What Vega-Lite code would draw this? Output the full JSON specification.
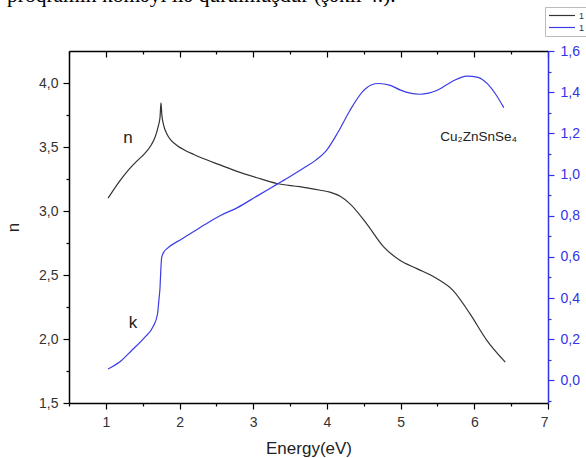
{
  "$schema": "https://vega.github.io/schema/vega-lite/v6.json",
  "width": 479,
  "height": 352,
  "autosize": "none",
  "padding": {"left": 69, "top": 51, "right": 38, "bottom": 55},
  "background": "white",
  "config": {"view": {"stroke": null}, "font": "Liberation Sans"},
  "title": {
    "text": "proqramın köməyi ilə qurulmuşdur (şəkil 4.).",
    "anchor": "start",
    "frame": "group",
    "orient": "top",
    "offset": 0,
    "dx": -62,
    "dy": 17,
    "baseline": "alphabetic",
    "font": "Liberation Serif",
    "fontSize": 21.5,
    "fontWeight": "normal",
    "color": "#000"
  },
  "datasets": {
    "n": [
      {"E": 1.03, "n": 3.10}, {"E": 1.17, "n": 3.22}, {"E": 1.305, "n": 3.32}, {"E": 1.42, "n": 3.39},
      {"E": 1.53, "n": 3.45}, {"E": 1.62, "n": 3.52}, {"E": 1.67, "n": 3.58}, {"E": 1.71, "n": 3.66},
      {"E": 1.735, "n": 3.73}, {"E": 1.748, "n": 3.845}, {"E": 1.76, "n": 3.75}, {"E": 1.78, "n": 3.68},
      {"E": 1.83, "n": 3.60}, {"E": 1.89, "n": 3.55}, {"E": 1.97, "n": 3.51}, {"E": 2.07, "n": 3.475},
      {"E": 2.2, "n": 3.44}, {"E": 2.32, "n": 3.41}, {"E": 2.55, "n": 3.36}, {"E": 2.78, "n": 3.31},
      {"E": 3.05, "n": 3.26}, {"E": 3.32, "n": 3.215}, {"E": 3.63, "n": 3.19}, {"E": 3.91, "n": 3.162},
      {"E": 4.04, "n": 3.148}, {"E": 4.18, "n": 3.115}, {"E": 4.31, "n": 3.058}, {"E": 4.54, "n": 2.90},
      {"E": 4.77, "n": 2.72}, {"E": 4.99, "n": 2.615}, {"E": 5.22, "n": 2.55}, {"E": 5.49, "n": 2.472},
      {"E": 5.71, "n": 2.38}, {"E": 5.94, "n": 2.198}, {"E": 6.17, "n": 1.99}, {"E": 6.42, "n": 1.82}
    ],
    "k": [
      {"E": 1.03, "k": 0.055}, {"E": 1.19, "k": 0.09}, {"E": 1.35, "k": 0.145}, {"E": 1.53, "k": 0.21},
      {"E": 1.64, "k": 0.26}, {"E": 1.70, "k": 0.32}, {"E": 1.72, "k": 0.39}, {"E": 1.735, "k": 0.45},
      {"E": 1.745, "k": 0.53}, {"E": 1.758, "k": 0.598}, {"E": 1.79, "k": 0.625}, {"E": 1.83, "k": 0.64},
      {"E": 2.03, "k": 0.687}, {"E": 2.21, "k": 0.727}, {"E": 2.35, "k": 0.758}, {"E": 2.55, "k": 0.80},
      {"E": 2.78, "k": 0.838}, {"E": 3.05, "k": 0.895}, {"E": 3.32, "k": 0.952}, {"E": 3.5, "k": 0.99},
      {"E": 3.68, "k": 1.03}, {"E": 3.85, "k": 1.07}, {"E": 4.0, "k": 1.12}, {"E": 4.15, "k": 1.205},
      {"E": 4.31, "k": 1.31}, {"E": 4.49, "k": 1.405}, {"E": 4.6, "k": 1.435}, {"E": 4.7, "k": 1.442},
      {"E": 4.85, "k": 1.434}, {"E": 5.0, "k": 1.41}, {"E": 5.13, "k": 1.395}, {"E": 5.26, "k": 1.39},
      {"E": 5.38, "k": 1.395}, {"E": 5.49, "k": 1.408}, {"E": 5.70, "k": 1.452}, {"E": 5.90, "k": 1.478},
      {"E": 6.05, "k": 1.472}, {"E": 6.18, "k": 1.44}, {"E": 6.29, "k": 1.39}, {"E": 6.40, "k": 1.325}
    ],
    "nlabels": [
      {"E": 1.30, "n": 3.57, "label": "n", "size": 17},
      {"E": 6.06, "n": 3.576, "label": "Cu₂ZnSnSe₄", "size": 13.5}
    ],
    "klabels": [
      {"E": 1.368, "k": 0.281, "label": "k"}
    ]
  },
  "layer": [
    {
      "encoding": {
        "x": {
          "field": "E", "type": "quantitative",
          "scale": {"domain": [0.5, 7], "nice": false, "zero": false},
          "axis": {
            "orient": "bottom",
            "values": [0.5, 1, 1.5, 2, 2.5, 3, 3.5, 4, 4.5, 5, 5.5, 6, 6.5, 7],
            "labelExpr": "datum.value % 1 == 0 ? format(datum.value, 'd') : ''",
            "tickSize": {"condition": {"test": "datum.value % 1 == 0", "value": 6}, "value": 3},
            "domainColor": "#000", "domainWidth": 1.5, "tickColor": "#000", "tickWidth": 1.2,
            "labelFont": "Liberation Sans", "labelFontSize": 14, "labelColor": "#333", "labelPadding": 6,
            "grid": false,
            "title": "Energy(eV)", "titleFont": "Liberation Sans", "titleFontSize": 17,
            "titleFontWeight": "normal", "titleColor": "#222", "titlePadding": 11
          }
        },
        "y": {
          "field": "n", "type": "quantitative",
          "scale": {"domain": [1.5, 4.25], "nice": false, "zero": false},
          "axis": {
            "orient": "left",
            "values": [1.5, 1.75, 2, 2.25, 2.5, 2.75, 3, 3.25, 3.5, 3.75, 4],
            "labelExpr": "abs(datum.value*2-round(datum.value*2))<0.01 ? replace(format(datum.value,'.1f'),'.',',') : ''",
            "tickSize": {"condition": {"test": "abs(datum.value*2-round(datum.value*2))<0.01", "value": 6}, "value": 3},
            "domainColor": "#000", "domainWidth": 1.5, "tickColor": "#000", "tickWidth": 1.2,
            "labelFont": "Liberation Sans", "labelFontSize": 14, "labelColor": "#333", "labelPadding": 5,
            "grid": false,
            "title": "n", "titleFont": "Liberation Sans", "titleFontSize": 17,
            "titleFontWeight": "normal", "titleColor": "#222", "titlePadding": 16
          }
        }
      },
      "layer": [
        {
          "data": {"name": "n"},
          "mark": {"type": "line", "interpolate": "monotone", "strokeWidth": 1.2},
          "encoding": {
            "color": {
              "datum": "n", "type": "nominal",
              "scale": {"domain": ["n", "k"], "range": ["#333333", "#3c3ce6"]},
              "legend": {
                "orient": "none", "legendX": 476, "legendY": -44,
                "title": null, "symbolType": "stroke", "symbolSize": 676, "symbolStrokeWidth": 1.2,
                "clipHeight": 11,
                "labelExpr": "'1'", "labelFont": "Liberation Sans", "labelFontSize": 9, "labelColor": "#333",
                "strokeColor": "#bbbbbb", "fillColor": "white", "padding": 3, "rowPadding": 1, "labelOffset": 3
              }
            }
          }
        },
        {
          "data": {"name": "nlabels"},
          "mark": {"type": "text", "font": "Liberation Sans", "color": "#222", "baseline": "middle", "align": "center"},
          "encoding": {
            "text": {"field": "label"},
            "size": {"field": "size", "type": "quantitative", "scale": null}
          }
        }
      ]
    },
    {
      "encoding": {
        "x": {
          "field": "E", "type": "quantitative",
          "scale": {"domain": [0.5, 7], "nice": false, "zero": false},
          "axis": {
            "orient": "top",
            "values": [0.5, 1, 1.5, 2, 2.5, 3, 3.5, 4, 4.5, 5, 5.5, 6, 6.5, 7],
            "labels": false,
            "tickSize": {"condition": {"test": "datum.value % 1 == 0", "value": -6}, "value": -3},
            "domainColor": "#000", "domainWidth": 1.5, "tickColor": "#000", "tickWidth": 1.2,
            "grid": false, "title": null
          }
        },
        "y": {
          "field": "k", "type": "quantitative",
          "scale": {"domain": [-0.11, 1.6], "nice": false, "zero": false},
          "axis": {
            "orient": "right",
            "values": [-0.1, 0, 0.1, 0.2, 0.3, 0.4, 0.5, 0.6, 0.7, 0.8, 0.9, 1.0, 1.1, 1.2, 1.3, 1.4, 1.5, 1.6],
            "labelExpr": "round(datum.value*10) % 2 == 0 ? replace(format(datum.value,'.1f'),'.',',') : ''",
            "tickSize": {"condition": {"test": "round(datum.value*10) % 2 == 0", "value": 6}, "value": 3},
            "domainColor": "#3333e6", "domainWidth": 1.5, "tickColor": "#3333e6", "tickWidth": 1.2,
            "labelFont": "Liberation Sans", "labelFontSize": 14, "labelColor": "#3333e6", "labelPadding": 6,
            "grid": false, "title": null
          }
        }
      },
      "layer": [
        {
          "data": {"name": "k"},
          "mark": {"type": "line", "interpolate": "monotone", "strokeWidth": 1.2},
          "encoding": {"color": {"datum": "k", "type": "nominal"}}
        },
        {
          "data": {"name": "klabels"},
          "mark": {"type": "text", "font": "Liberation Sans", "color": "#222", "baseline": "middle", "align": "center", "fontSize": 17},
          "encoding": {"text": {"field": "label"}}
        }
      ]
    }
  ],
  "resolve": {"scale": {"y": "independent"}, "axis": {"x": "independent"}}
}
